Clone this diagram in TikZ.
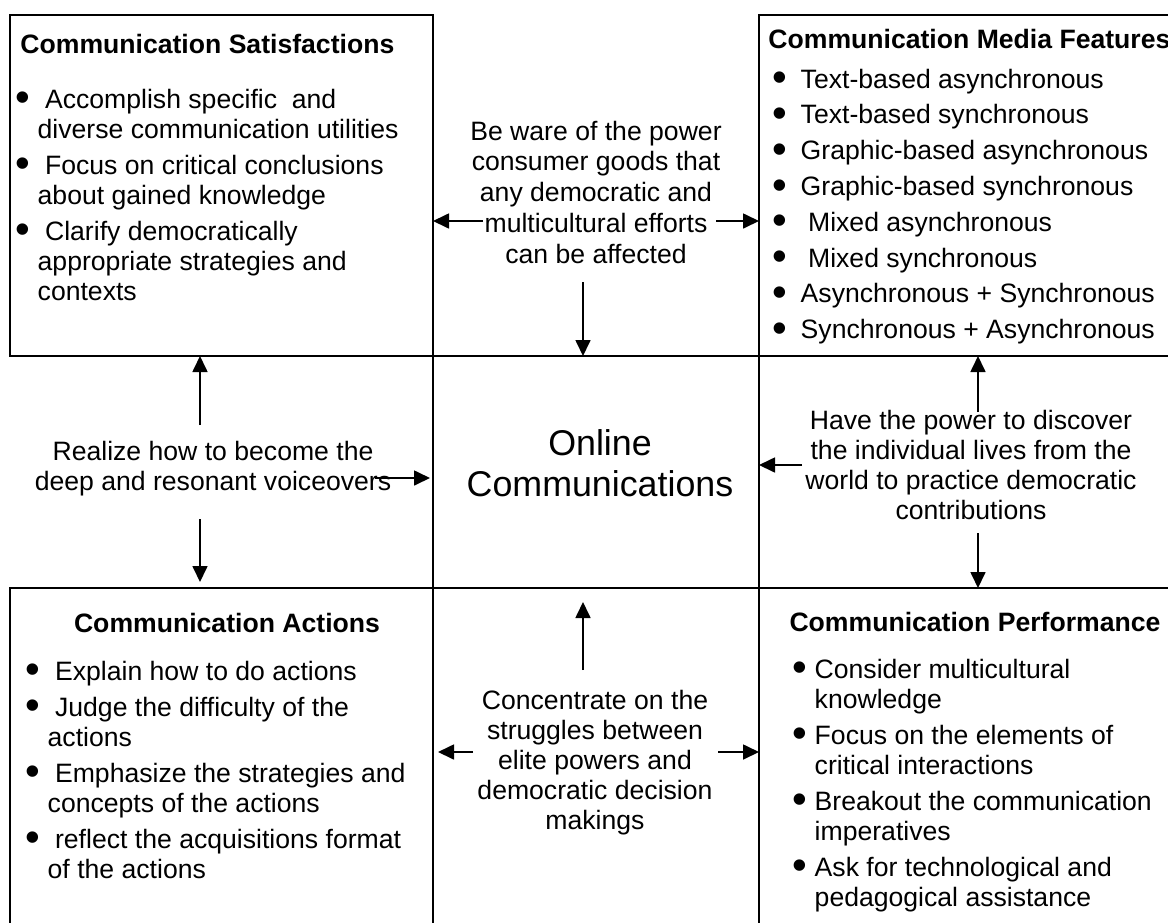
\documentclass[tikz,border=0pt]{standalone}
\usepackage{fontspec}
\setmainfont{Liberation Sans}
\usetikzlibrary{arrows.meta,calc}
\newcommand{\bodysize}{\fontsize{13.3}{15}\selectfont}
\newcommand{\blt}{\smash{\raisebox{-1.8pt}{\fontsize{21}{15}\selectfont\textbullet}}}
\tikzstyle{box}=[draw=black,line width=1pt,inner sep=0pt,outer sep=0pt,anchor=north west]
\tikzstyle{head}=[inner sep=0pt,font=\bodysize\bfseries]
\tikzstyle{txt}=[inner sep=0pt,font=\bodysize]
\tikzstyle{arr}=[-{Triangle[length=8pt,width=7.5pt]},line width=0.85pt]

\begin{document}
\begin{tikzpicture}[x=0.5pt,y=-0.5pt]
    \useasboundingbox (0,0) rectangle (1168,922);
    \clip (0,0) rectangle (1168,922);
            % frames
            \node [style=box,minimum width=211.5pt,minimum height=170.5pt] (satis) at (10,15) {};
            \node [style=box,minimum width=215.5pt,minimum height=170.5pt] (media) at (759,15) {};
            \node [style=box,minimum width=211.5pt,minimum height=178.5pt] (actions) at (10,588) {};
            \node [style=box,minimum width=215.5pt,minimum height=178.5pt] (perform) at (759,588) {};
            \node [style=box,minimum width=163pt,minimum height=116pt] (online) at (433,356) {};
            % headings
            \node [style=head,anchor=base west] (satishead) at (20,53) {Communication Satisfactions};
            \node [style=head,anchor=base west] (mediahead) at (768,48) {Communication Media Features};
            \node [style=head,anchor=base] (actionshead) at (227,632) {Communication Actions};
            \node [style=head,anchor=base] (performhead) at (975,631) {Communication Performance};
            % lists
            \node [style=txt,anchor=base west] (satislist) at (15.3,108) {\begin{tabular}[t]{@{}l@{\hspace{3.65pt}}l@{}}
                \blt & \ Accomplish specific\ \ and\\
                 & diverse communication utilities\\[3pt]
                \blt & \ Focus on critical conclusions\\
                 & about gained knowledge\\[3pt]
                \blt & \ Clarify democratically\\
                 & appropriate strategies and\\
                 & contexts
            \end{tabular}};
            \node [style=txt,font=\fontsize{13.3}{17.9}\selectfont,anchor=base west] (medialist) at (772.3,88) {\begin{tabular}[t]{@{}l@{\hspace{6.65pt}}l@{}}
                \blt & Text-based asynchronous\\
                \blt & Text-based synchronous\\
                \blt & Graphic-based asynchronous\\
                \blt & Graphic-based synchronous\\
                \blt & \ Mixed asynchronous\\
                \blt & \ Mixed synchronous\\
                \blt & Asynchronous + Synchronous\\
                \blt & Synchronous + Asynchronous
            \end{tabular}};
            \node [style=txt,anchor=base west] (actionslist) at (25.3,680) {\begin{tabular}[t]{@{}l@{\hspace{3.65pt}}l@{}}
                \blt & \ Explain how to do actions\\[3pt]
                \blt & \ Judge the difficulty of the\\
                 & actions\\[3pt]
                \blt & \ Emphasize the strategies and\\
                 & concepts of the actions\\[3pt]
                \blt & \ reflect the acquisitions format\\
                 & of the actions
            \end{tabular}};
            \node [style=txt,anchor=base west] (performlist) at (792.3,678) {\begin{tabular}[t]{@{}l@{\hspace{3.65pt}}l@{}}
                \blt & Consider multicultural\\
                 & knowledge\\[3pt]
                \blt & Focus on the elements of\\
                 & critical interactions\\[3pt]
                \blt & Breakout the communication\\
                 & imperatives\\[3pt]
                \blt & Ask for technological and\\
                 & pedagogical assistance
            \end{tabular}};
            % middle texts
            \node [style=txt,font=\fontsize{17.9}{20.5}\selectfont,anchor=base] (onlinetxt) at (600,455) {\begin{tabular}[t]{@{}c@{}}
                Online\\ Communications
            \end{tabular}};
            \node [style=txt,font=\fontsize{13.3}{15.4}\selectfont,anchor=base] (aware) at (596,140) {\begin{tabular}[t]{@{}c@{}}
                Be ware of the power\\ consumer goods that\\ any democratic and\\ multicultural efforts\\ can be affected
            \end{tabular}};
            \node [style=txt,font=\fontsize{13.3}{15.1}\selectfont,anchor=base] (struggle) at (595,709) {\begin{tabular}[t]{@{}c@{}}
                Concentrate on the\\ struggles between\\ elite powers and\\ democratic decision\\ makings
            \end{tabular}};
            \node [style=txt,anchor=base] (realize) at (213,460) {\begin{tabular}[t]{@{}c@{}}
                Realize how to become the\\ deep and resonant voiceovers
            \end{tabular}};
            \node [style=txt,font=\fontsize{13.3}{15.15}\selectfont,anchor=base] (discover) at (971,429) {\begin{tabular}[t]{@{}c@{}}
                Have the power to discover\\ the individual lives from the\\ world to practice democratic\\ contributions
            \end{tabular}};
            % arrow tails
            \coordinate (awareL) at (483,221);
            \coordinate (awareR) at (716,221);
            \coordinate (awareD) at (583,282);
            \coordinate (struggleU) at (583,670);
            \coordinate (struggleL) at (473,752);
            \coordinate (struggleR) at (718,752);
            \coordinate (realizeU) at (200,425);
            \coordinate (realizeD) at (200,519);
            \coordinate (realizeR) at (375,478);
            \coordinate (discoverU) at (978,412);
            \coordinate (discoverD) at (978,533);
            \coordinate (discoverL) at (802,465);
            % arrows
            \draw [style=arr] (awareL) to (awareL -| satis.east);
            \draw [style=arr] (awareR) to (awareR -| media.west);
            \draw [style=arr] (awareD) to (awareD |- online.north);
            \draw [style=arr,shorten >=7pt] (struggleU) to (struggleU |- online.south);
            \draw [style=arr,shorten >=2.5pt] (struggleL) to (struggleL -| actions.east);
            \draw [style=arr] (struggleR) to (struggleR -| perform.west);
            \draw [style=arr] (realizeU) to (realizeU |- satis.south);
            \draw [style=arr,shorten >=3pt] (realizeD) to (realizeD |- actions.north);
            \draw [style=arr,shorten >=1.5pt] (realizeR) to (realizeR -| online.west);
            \draw [style=arr] (discoverU) to (discoverU |- media.south);
            \draw [style=arr] (discoverD) to (discoverD |- perform.north);
            \draw [style=arr] (discoverL) to (discoverL -| online.east);
    \end{tikzpicture}
\end{document}
